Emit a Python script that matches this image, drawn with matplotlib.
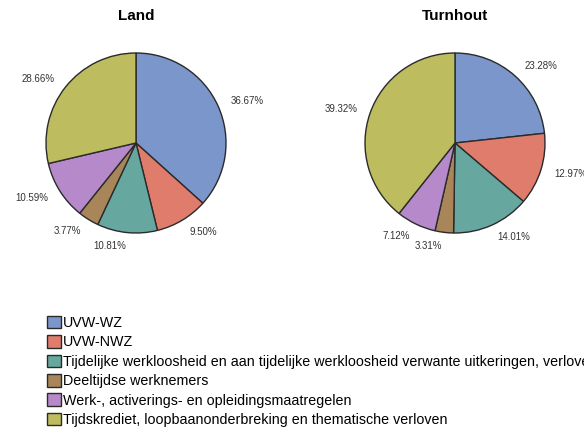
import matplotlib
matplotlib.use("Agg")
import matplotlib.pyplot as plt
from matplotlib.patches import Patch

plt.rcParams['font.family'] = ['Liberation Sans', 'DejaVu Sans']

categories = [
    "UVW-WZ",
    "UVW-NWZ",
    "Tijdelijke werkloosheid en aan tijdelijke werkloosheid verwante uitkeringen, verloven",
    "Deeltijdse werknemers",
    "Werk-, activerings- en opleidingsmaatregelen",
    "Tijdskrediet, loopbaanonderbreking en thematische verloven",
]
land = [36.67, 9.50, 10.81, 3.77, 10.59, 28.66]
turnhout = [23.28, 12.97, 14.01, 3.31, 7.12, 39.32]
titles = ["Land", "Turnhout"]
colors = ['#7b96cb', '#e07c6c', '#66a89f', '#a88659', '#b689cb', '#bdbc5e']

W, H = 584, 433
fig = plt.figure(figsize=(W / 100, H / 100), dpi=100)

# pie centres in pixels (from top-left), radius in pixels
centres = [(136, 143), (455, 143)]
r = 90
half = 1.25 * r

for (cx, cy), title, values in zip(centres, titles, [land, turnhout]):
    ax = fig.add_axes([(cx - half) / W, (H - cy - half) / H, 2 * half / W, 2 * half / H])
    labels = [f"{v:.2f}%" for v in values]
    wedges, texts = ax.pie(values, colors=colors, startangle=90, counterclock=False,
                           labels=labels, labeldistance=1.15,
                           wedgeprops=dict(edgecolor='#2a2a2a', linewidth=1.0),
                           textprops=dict(fontsize=7, color='#333333'))
    ax.set_xlim(-1.25, 1.25)
    ax.set_ylim(-1.25, 1.25)
    ax.set_aspect('equal')
    fig.text(cx / W, 1 - 16 / H, title, ha='center', va='center',
             fontsize=11, fontweight='bold')

handles = [Patch(facecolor=c, edgecolor='#2a2a2a', linewidth=1.0) for c in colors]
fig.legend(handles, categories, loc='upper left',
           bbox_to_anchor=(44 / W, 1 - 313 / H), frameon=False,
           fontsize=10.3, handlelength=0.98, handleheight=0.98,
           handletextpad=0.15, labelspacing=0.36, borderpad=0.2, borderaxespad=0)

fig.savefig("out.png", dpi=100)
